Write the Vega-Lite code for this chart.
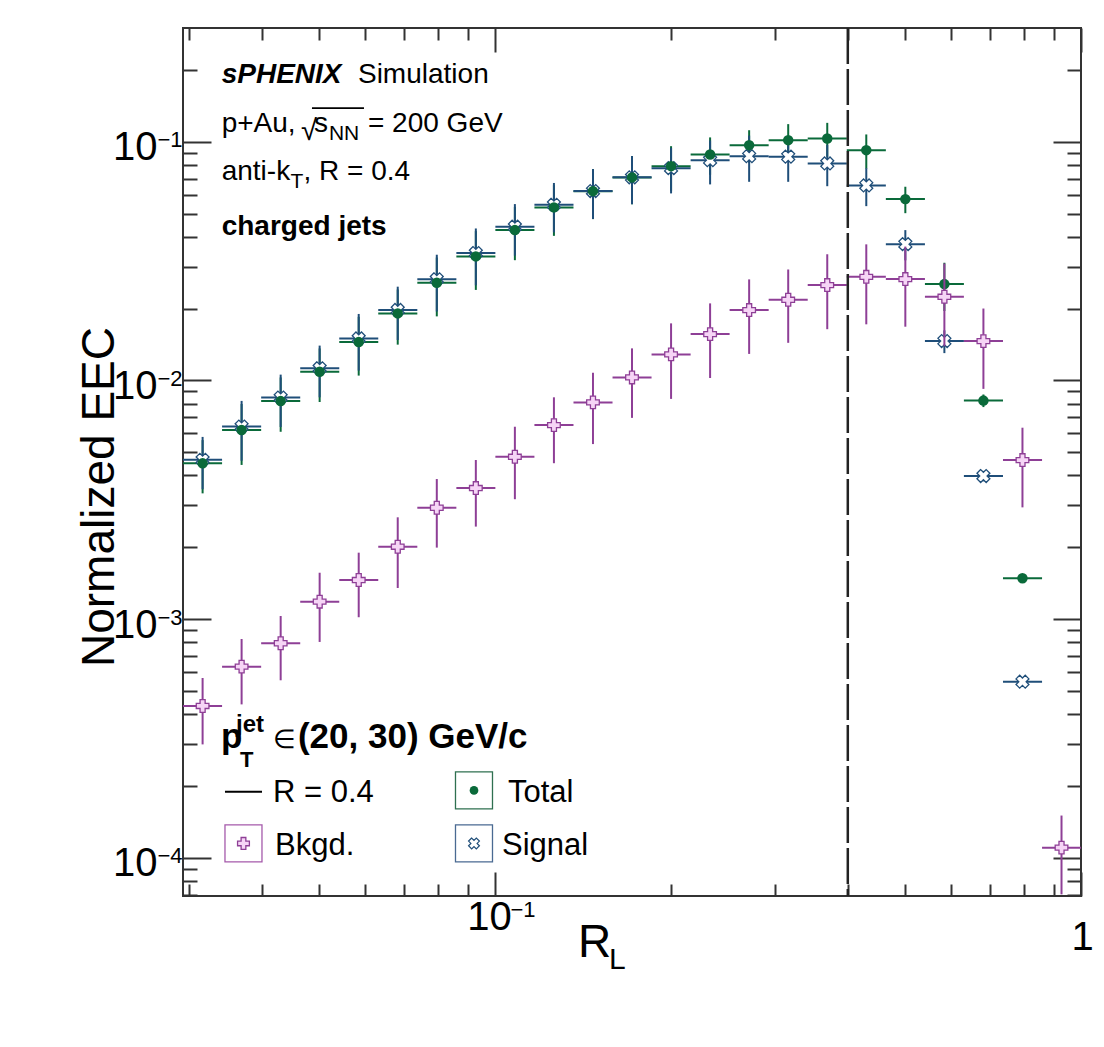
{
"$schema": "https://vega.github.io/schema/vega-lite/v6.json",
"width": 898, "height": 868,
"autosize": {"type": "none"},
"padding": {"left": 183, "top": 28, "right": 23, "bottom": 151},
"background": "white",
"config": {
  "view": {"stroke": "#333", "strokeWidth": 2},
  "font": "Liberation Sans",
  "axis": {"tickColor": "#333", "tickWidth": 2, "domain": false, "grid": false, "labelColor": "#000", "labelFont": "Liberation Sans", "titleFont": "Liberation Sans", "titleColor": "#000", "titleFontWeight": "normal", "labelOverlap": false, "labelFlush": false, "labelBound": false}
},
"datasets": {"pts": [
{"series":"Total","x":0.0317,"xlo":0.02935,"xhi":0.03422,"y":0.004494,"ylo":0.003364,"yhi":0.005624},
{"series":"Total","x":0.03695,"xlo":0.03422,"xhi":0.0399,"y":0.006196,"ylo":0.004426,"yhi":0.007966},
{"series":"Total","x":0.04308,"xlo":0.0399,"xhi":0.04652,"y":0.008195,"ylo":0.006095,"yhi":0.010295},
{"series":"Total","x":0.05021,"xlo":0.04652,"xhi":0.05423,"y":0.010873,"ylo":0.008123,"yhi":0.013623},
{"series":"Total","x":0.05854,"xlo":0.05423,"xhi":0.06321,"y":0.01448,"ylo":0.01048,"yhi":0.01848},
{"series":"Total","x":0.06824,"xlo":0.06321,"xhi":0.0737,"y":0.0191,"ylo":0.01413,"yhi":0.02407},
{"series":"Total","x":0.07956,"xlo":0.0737,"xhi":0.08592,"y":0.02566,"ylo":0.01856,"yhi":0.03276},
{"series":"Total","x":0.09275,"xlo":0.08592,"xhi":0.10015,"y":0.03311,"ylo":0.02396,"yhi":0.04226},
{"series":"Total","x":0.10813,"xlo":0.10015,"xhi":0.11676,"y":0.04267,"ylo":0.03192,"yhi":0.05342},
{"series":"Total","x":0.12606,"xlo":0.11676,"xhi":0.13613,"y":0.05312,"ylo":0.04037,"yhi":0.06587},
{"series":"Total","x":0.14696,"xlo":0.13613,"xhi":0.1587,"y":0.06214,"ylo":0.04744,"yhi":0.07684},
{"series":"Total","x":0.17132,"xlo":0.1587,"xhi":0.185,"y":0.07095,"ylo":0.05475,"yhi":0.08715},
{"series":"Total","x":0.19974,"xlo":0.185,"xhi":0.2157,"y":0.07911,"ylo":0.06231,"yhi":0.09591},
{"series":"Total","x":0.23285,"xlo":0.2157,"xhi":0.2514,"y":0.08857,"ylo":0.07277,"yhi":0.10437},
{"series":"Total","x":0.27146,"xlo":0.2514,"xhi":0.2931,"y":0.09687,"ylo":0.08187,"yhi":0.11187},
{"series":"Total","x":0.31649,"xlo":0.2931,"xhi":0.3417,"y":0.10165,"ylo":0.08465,"yhi":0.11865},
{"series":"Total","x":0.36897,"xlo":0.3417,"xhi":0.3984,"y":0.10332,"ylo":0.08652,"yhi":0.12012},
{"series":"Total","x":0.43013,"xlo":0.3984,"xhi":0.4645,"y":0.0923,"ylo":0.0772,"yhi":0.1074},
{"series":"Total","x":0.50146,"xlo":0.4645,"xhi":0.5416,"y":0.05754,"ylo":0.05024,"yhi":0.06484},
{"series":"Total","x":0.58461,"xlo":0.5416,"xhi":0.6312,"y":0.02534,"ylo":0.01954,"yhi":0.03114},
{"series":"Total","x":0.68152,"xlo":0.6312,"xhi":0.736,"y":0.008235,"ylo":0.007735,"yhi":0.008735},
{"series":"Total","x":0.79454,"xlo":0.736,"xhi":0.8581,"y":0.001482,"ylo":0.001442,"yhi":0.001522},
{"series":"Signal","x":0.0317,"xlo":0.02935,"xhi":0.03422,"y":0.00465,"ylo":0.0035,"yhi":0.0058},
{"series":"Signal","x":0.03695,"xlo":0.03422,"xhi":0.0399,"y":0.00641,"ylo":0.00461,"yhi":0.00821},
{"series":"Signal","x":0.04308,"xlo":0.0399,"xhi":0.04652,"y":0.00848,"ylo":0.00638,"yhi":0.01058},
{"series":"Signal","x":0.05021,"xlo":0.04652,"xhi":0.05423,"y":0.01125,"ylo":0.0085,"yhi":0.014},
{"series":"Signal","x":0.05854,"xlo":0.05423,"xhi":0.06321,"y":0.015,"ylo":0.011,"yhi":0.019},
{"series":"Signal","x":0.06824,"xlo":0.06321,"xhi":0.0737,"y":0.01975,"ylo":0.01478,"yhi":0.02472},
{"series":"Signal","x":0.07956,"xlo":0.0737,"xhi":0.08592,"y":0.02655,"ylo":0.01945,"yhi":0.03365},
{"series":"Signal","x":0.09275,"xlo":0.08592,"xhi":0.10015,"y":0.0342,"ylo":0.02505,"yhi":0.04335},
{"series":"Signal","x":0.10813,"xlo":0.10015,"xhi":0.11676,"y":0.0441,"ylo":0.03335,"yhi":0.05485},
{"series":"Signal","x":0.12606,"xlo":0.11676,"xhi":0.13613,"y":0.0545,"ylo":0.04175,"yhi":0.06725},
{"series":"Signal","x":0.14696,"xlo":0.13613,"xhi":0.1587,"y":0.0622,"ylo":0.0475,"yhi":0.0769},
{"series":"Signal","x":0.17132,"xlo":0.1587,"xhi":0.185,"y":0.071,"ylo":0.0548,"yhi":0.0872},
{"series":"Signal","x":0.19974,"xlo":0.185,"xhi":0.2157,"y":0.0776,"ylo":0.0608,"yhi":0.0944},
{"series":"Signal","x":0.23285,"xlo":0.2157,"xhi":0.2514,"y":0.08382,"ylo":0.06632,"yhi":0.10132},
{"series":"Signal","x":0.27146,"xlo":0.2514,"xhi":0.2931,"y":0.08711,"ylo":0.06801,"yhi":0.10621},
{"series":"Signal","x":0.31649,"xlo":0.2931,"xhi":0.3417,"y":0.0867,"ylo":0.068,"yhi":0.1054},
{"series":"Signal","x":0.36897,"xlo":0.3417,"xhi":0.3984,"y":0.08118,"ylo":0.06518,"yhi":0.09718},
{"series":"Signal","x":0.43013,"xlo":0.3984,"xhi":0.4645,"y":0.06567,"ylo":0.05377,"yhi":0.07757},
{"series":"Signal","x":0.50146,"xlo":0.4645,"xhi":0.5416,"y":0.03727,"ylo":0.03187,"yhi":0.04267},
{"series":"Signal","x":0.58461,"xlo":0.5416,"xhi":0.6312,"y":0.01462,"ylo":0.01302,"yhi":0.01622},
{"series":"Signal","x":0.68152,"xlo":0.6312,"xhi":0.736,"y":0.003977,"ylo":0.003777,"yhi":0.004177},
{"series":"Signal","x":0.79454,"xlo":0.736,"xhi":0.8581,"y":0.0005466,"ylo":0.0005266,"yhi":0.0005666},
{"series":"Bkgd","x":0.0317,"xlo":0.02935,"xhi":0.03422,"y":0.0004324,"ylo":0.0002984,"yhi":0.0005664},
{"series":"Bkgd","x":0.03695,"xlo":0.03422,"xhi":0.0399,"y":0.000632,"ylo":0.000439,"yhi":0.000825},
{"series":"Bkgd","x":0.04308,"xlo":0.0399,"xhi":0.04652,"y":0.000792,"ylo":0.000554,"yhi":0.00103},
{"series":"Bkgd","x":0.05021,"xlo":0.04652,"xhi":0.05423,"y":0.001183,"ylo":0.000802,"yhi":0.001564},
{"series":"Bkgd","x":0.05854,"xlo":0.05423,"xhi":0.06321,"y":0.001458,"ylo":0.001018,"yhi":0.001898},
{"series":"Bkgd","x":0.06824,"xlo":0.06321,"xhi":0.0737,"y":0.00201,"ylo":0.00135,"yhi":0.00267},
{"series":"Bkgd","x":0.07956,"xlo":0.0737,"xhi":0.08592,"y":0.002928,"ylo":0.001993,"yhi":0.003863},
{"series":"Bkgd","x":0.09275,"xlo":0.08592,"xhi":0.10015,"y":0.003541,"ylo":0.002441,"yhi":0.004641},
{"series":"Bkgd","x":0.10813,"xlo":0.10015,"xhi":0.11676,"y":0.004789,"ylo":0.003179,"yhi":0.006399},
{"series":"Bkgd","x":0.12606,"xlo":0.11676,"xhi":0.13613,"y":0.0065,"ylo":0.0045,"yhi":0.0085},
{"series":"Bkgd","x":0.14696,"xlo":0.13613,"xhi":0.1587,"y":0.008093,"ylo":0.005413,"yhi":0.010773},
{"series":"Bkgd","x":0.17132,"xlo":0.1587,"xhi":0.185,"y":0.0103,"ylo":0.00697,"yhi":0.01363},
{"series":"Bkgd","x":0.19974,"xlo":0.185,"xhi":0.2157,"y":0.01286,"ylo":0.00837,"yhi":0.01735},
{"series":"Bkgd","x":0.23285,"xlo":0.2157,"xhi":0.2514,"y":0.01564,"ylo":0.01024,"yhi":0.02104},
{"series":"Bkgd","x":0.27146,"xlo":0.2514,"xhi":0.2931,"y":0.01972,"ylo":0.01292,"yhi":0.02652},
{"series":"Bkgd","x":0.31649,"xlo":0.2931,"xhi":0.3417,"y":0.02178,"ylo":0.01438,"yhi":0.02918},
{"series":"Bkgd","x":0.36897,"xlo":0.3417,"xhi":0.3984,"y":0.0251,"ylo":0.0164,"yhi":0.0338},
{"series":"Bkgd","x":0.43013,"xlo":0.3984,"xhi":0.4645,"y":0.02719,"ylo":0.01719,"yhi":0.03719},
{"series":"Bkgd","x":0.50146,"xlo":0.4645,"xhi":0.5416,"y":0.0266,"ylo":0.0168,"yhi":0.0364},
{"series":"Bkgd","x":0.58461,"xlo":0.5416,"xhi":0.6312,"y":0.02242,"ylo":0.01392,"yhi":0.03092},
{"series":"Bkgd","x":0.68152,"xlo":0.6312,"xhi":0.736,"y":0.01462,"ylo":0.00922,"yhi":0.02002},
{"series":"Bkgd","x":0.79454,"xlo":0.736,"xhi":0.8581,"y":0.004639,"ylo":0.002939,"yhi":0.006339},
{"series":"Bkgd","x":0.92628,"xlo":0.8581,"xhi":1.0,"y":0.0001102,"ylo":0.0000702,"yhi":0.0001502}
]},
"data": {"name": "pts"},
"layer": [
{"transform":[{"filter":"datum.series == 'Total'"}],
 "mark":{"type":"rule","color":"#0a6a3a","strokeWidth":2},
 "encoding":{
  "x":{"field":"xlo","type":"quantitative","scale":{"type":"log","domain":[0.02935,1],"nice":false},"axis":{"orient":"bottom","values":[0.1,1],"labels":false,"tickSize":-24,"title":null}},
  "x2":{"field":"xhi"},
  "y":{"field":"y","type":"quantitative","scale":{"type":"log","domain":[0.0000691,0.3],"nice":false},"axis":{"orient":"left","values":[0.0001,0.001,0.01,0.1],"labels":false,"tickSize":-28,"title":null}}}},
{"transform":[{"filter":"datum.series == 'Signal'"}],
 "mark":{"type":"rule","color":"#1f4e79","strokeWidth":2},
 "encoding":{
  "x":{"field":"xlo","type":"quantitative","scale":{"type":"log","domain":[0.02935,1],"nice":false},"axis":{"orient":"bottom","values":[0.03,0.04,0.05,0.06,0.07,0.08,0.09,0.2,0.3,0.4,0.5,0.6,0.7,0.8,0.9],"labels":false,"tickSize":-12,"title":null}},
  "x2":{"field":"xhi"},
  "y":{"field":"y","type":"quantitative","scale":{"type":"log","domain":[0.0000691,0.3],"nice":false},"axis":{"orient":"left","values":[0.00007,0.00008,0.00009,0.0002,0.0003,0.0004,0.0005,0.0006,0.0007,0.0008,0.0009,0.002,0.003,0.004,0.005,0.006,0.007,0.008,0.009,0.02,0.03,0.04,0.05,0.06,0.07,0.08,0.09,0.2],"labels":false,"tickSize":-14,"title":null}}}},
{"transform":[{"filter":"datum.series == 'Total'"}],
 "mark":{"type":"rule","color":"#0a6a3a","strokeWidth":2},
 "encoding":{
  "x":{"field":"x","type":"quantitative","scale":{"type":"log","domain":[0.02935,1],"nice":false},"axis":{"orient":"top","values":[0.1,1],"labels":false,"tickSize":-24,"title":null}},
  "y":{"field":"ylo","type":"quantitative","scale":{"type":"log","domain":[0.0000691,0.3],"nice":false},"axis":{"orient":"right","values":[0.0001,0.001,0.01,0.1],"labels":false,"tickSize":-28,"title":null}},
  "y2":{"field":"yhi"}}},
{"transform":[{"filter":"datum.series == 'Signal'"}],
 "mark":{"type":"rule","color":"#1f4e79","strokeWidth":2},
 "encoding":{
  "x":{"field":"x","type":"quantitative","scale":{"type":"log","domain":[0.02935,1],"nice":false},"axis":{"orient":"top","values":[0.03,0.04,0.05,0.06,0.07,0.08,0.09,0.2,0.3,0.4,0.5,0.6,0.7,0.8,0.9],"labels":false,"tickSize":-12,"title":null}},
  "y":{"field":"ylo","type":"quantitative","scale":{"type":"log","domain":[0.0000691,0.3],"nice":false},"axis":{"orient":"right","values":[0.00007,0.00008,0.00009,0.0002,0.0003,0.0004,0.0005,0.0006,0.0007,0.0008,0.0009,0.002,0.003,0.004,0.005,0.006,0.007,0.008,0.009,0.02,0.03,0.04,0.05,0.06,0.07,0.08,0.09,0.2],"labels":false,"tickSize":-14,"title":null}},
  "y2":{"field":"yhi"}}},
{"transform":[{"filter":"datum.series == 'Signal'"}],
 "mark":{"type":"point","shape":"cross","angle":45,"size":170,"filled":true,"fill":"white","stroke":"#1f4e79","strokeWidth":1.3,"opacity":1},
 "encoding":{
  "x":{"field":"x","type":"quantitative","scale":{"type":"log","domain":[0.02935,1],"nice":false},"axis":{"orient":"bottom","values":[0.1],"ticks":false,"labelExpr":"'10'","labelFontSize":40,"labelAlign":"center","labelBaseline":"alphabetic","labelPadding":33,"labelOffset":-6,"title":"R","titleFontSize":46,"titleX":411,"titleY":60,"titleAlign":"center","titleBaseline":"alphabetic","titleAngle":0}},
  "y":{"field":"y","type":"quantitative","scale":{"type":"log","domain":[0.0000691,0.3],"nice":false},"axis":{"orient":"left","values":[0.0001,0.001,0.01,0.1],"ticks":false,"labelExpr":"'10'","labelFontSize":40,"labelAlign":"right","labelBaseline":"alphabetic","labelPadding":26,"labelOffset":18,"title":"Normalized EEC","titleFontSize":46,"titleX":-70,"titleY":468.5,"titleAngle":-90,"titleAlign":"center","titleBaseline":"alphabetic"}}}},
{"transform":[{"filter":"datum.series == 'Total'"}],
 "mark":{"type":"point","shape":"circle","size":110,"filled":true,"color":"#0a6a3a","opacity":1,"strokeWidth":0},
 "encoding":{
  "x":{"field":"x","type":"quantitative","scale":{"type":"log","domain":[0.02935,1],"nice":false},"axis":{"orient":"bottom","values":[0.1],"ticks":false,"labelExpr":"'−1'","labelFontSize":22,"labelAlign":"left","labelBaseline":"alphabetic","labelPadding":20,"labelOffset":15,"title":null}},
  "y":{"field":"y","type":"quantitative","scale":{"type":"log","domain":[0.0000691,0.3],"nice":false},"axis":{"orient":"left","values":[0.0001,0.001,0.01,0.1],"ticks":false,"labelExpr":"datum.value == 0.1 ? '−1' : datum.value == 0.01 ? '−2' : datum.value == 0.001 ? '−3' : '−4'","labelFontSize":22,"labelAlign":"left","labelBaseline":"alphabetic","labelPadding":26,"labelOffset":5,"title":null}}}},
{"transform":[{"filter":"datum.series == 'Bkgd'"}],
 "mark":{"type":"rule","color":"#8e3f96","strokeWidth":2},
 "encoding":{
  "x":{"field":"xlo","type":"quantitative","scale":{"type":"log","domain":[0.02935,1],"nice":false},"axis":{"orient":"bottom","values":[1],"ticks":false,"labelExpr":"'1'","labelFontSize":40,"labelAlign":"center","labelBaseline":"alphabetic","labelPadding":53,"labelOffset":1,"title":null}},
  "x2":{"field":"xhi"},
  "y":{"field":"y","type":"quantitative","scale":{"type":"log","domain":[0.0000691,0.3],"nice":false},"axis":null}}},
{"transform":[{"filter":"datum.series == 'Bkgd'"}],
 "mark":{"type":"rule","color":"#8e3f96","strokeWidth":2},
 "encoding":{
  "x":{"field":"x","type":"quantitative","scale":{"type":"log","domain":[0.02935,1],"nice":false},"axis":null},
  "y":{"field":"ylo","type":"quantitative","scale":{"type":"log","domain":[0.0000691,0.3],"nice":false},"axis":null},
  "y2":{"field":"yhi"}}},
{"transform":[{"filter":"datum.series == 'Bkgd'"}],
 "mark":{"type":"point","shape":"cross","size":160,"filled":true,"fill":"#f6d5f6","stroke":"#8e3f96","strokeWidth":1.3,"opacity":1},
 "encoding":{
  "x":{"field":"x","type":"quantitative","scale":{"type":"log","domain":[0.02935,1],"nice":false},"axis":null},
  "y":{"field":"y","type":"quantitative","scale":{"type":"log","domain":[0.0000691,0.3],"nice":false},"axis":null}}},
{"data":{"values":[{}]},
 "mark":{"type":"rule","strokeDash":[36,5],"strokeWidth":2.5,"color":"#222"},
 "encoding":{"x":{"datum":0.4,"type":"quantitative","scale":{"type":"log","domain":[0.02935,1],"nice":false},"axis":null}}},
{"data":{"values":[{}]},
 "mark":{"type":"text","align":"left","baseline":"alphabetic","fontSize":28,"fontWeight":"bold","fontStyle":"italic","color":"#000"},
 "encoding":{"x":{"datum":0.034169,"type":"quantitative","scale":{"type":"log","domain":[0.02935,1],"nice":false},"axis":null},"y":{"datum":0.17671,"type":"quantitative","scale":{"type":"log","domain":[0.0000691,0.3],"nice":false},"axis":null},"text":{"value":"sPHENIX"}}},
{"data":{"values":[{}]},
 "mark":{"type":"text","align":"left","baseline":"alphabetic","fontSize":28,"color":"#000"},
 "encoding":{"x":{"datum":0.058371,"type":"quantitative","scale":{"type":"log","domain":[0.02935,1],"nice":false},"axis":null},"y":{"datum":0.17671,"type":"quantitative","scale":{"type":"log","domain":[0.0000691,0.3],"nice":false},"axis":null},"text":{"value":"Simulation"}}},
{"data":{"values":[{}]},
 "mark":{"type":"text","align":"left","baseline":"alphabetic","fontSize":28,"color":"#000"},
 "encoding":{"x":{"datum":0.034169,"type":"quantitative","scale":{"type":"log","domain":[0.02935,1],"nice":false},"axis":null},"y":{"datum":0.11011,"type":"quantitative","scale":{"type":"log","domain":[0.0000691,0.3],"nice":false},"axis":null},"text":{"value":"p+Au,"}}},
{"data":{"values":[{}]},
 "mark":{"type":"text","align":"left","baseline":"alphabetic","fontSize":29,"color":"#000"},
 "encoding":{"x":{"datum":0.046654,"type":"quantitative","scale":{"type":"log","domain":[0.02935,1],"nice":false},"axis":null},"y":{"datum":0.10165,"type":"quantitative","scale":{"type":"log","domain":[0.0000691,0.3],"nice":false},"axis":null},"text":{"value":"√"}}},
{"data":{"values":[{}]},
 "mark":{"type":"rule","strokeWidth":1.6,"color":"#000"},
 "encoding":{"x":{"datum":0.048717,"type":"quantitative","scale":{"type":"log","domain":[0.02935,1],"nice":false},"axis":null},"x2":{"datum":0.059764},"y":{"datum":0.13842,"type":"quantitative","scale":{"type":"log","domain":[0.0000691,0.3],"nice":false},"axis":null}}},
{"data":{"values":[{}]},
 "mark":{"type":"text","align":"left","baseline":"alphabetic","fontSize":28,"color":"#000"},
 "encoding":{"x":{"datum":0.049103,"type":"quantitative","scale":{"type":"log","domain":[0.02935,1],"nice":false},"axis":null},"y":{"datum":0.11011,"type":"quantitative","scale":{"type":"log","domain":[0.0000691,0.3],"nice":false},"axis":null},"text":{"value":"s"}}},
{"data":{"values":[{}]},
 "mark":{"type":"text","align":"left","baseline":"alphabetic","fontSize":21,"color":"#000"},
 "encoding":{"x":{"datum":0.052078,"type":"quantitative","scale":{"type":"log","domain":[0.02935,1],"nice":false},"axis":null},"y":{"datum":0.10165,"type":"quantitative","scale":{"type":"log","domain":[0.0000691,0.3],"nice":false},"axis":null},"text":{"value":"NN"}}},
{"data":{"values":[{}]},
 "mark":{"type":"text","align":"left","baseline":"alphabetic","fontSize":28,"color":"#000"},
 "encoding":{"x":{"datum":0.060711,"type":"quantitative","scale":{"type":"log","domain":[0.02935,1],"nice":false},"axis":null},"y":{"datum":0.11011,"type":"quantitative","scale":{"type":"log","domain":[0.0000691,0.3],"nice":false},"axis":null},"text":{"value":"= 200 GeV"}}},
{"data":{"values":[{}]},
 "mark":{"type":"text","align":"left","baseline":"alphabetic","fontSize":28,"color":"#000"},
 "encoding":{"x":{"datum":0.034169,"type":"quantitative","scale":{"type":"log","domain":[0.02935,1],"nice":false},"axis":null},"y":{"datum":0.069131,"type":"quantitative","scale":{"type":"log","domain":[0.0000691,0.3],"nice":false},"axis":null},"text":{"value":"anti-k"}}},
{"data":{"values":[{}]},
 "mark":{"type":"text","align":"left","baseline":"alphabetic","fontSize":21,"color":"#000"},
 "encoding":{"x":{"datum":0.04477,"type":"quantitative","scale":{"type":"log","domain":[0.02935,1],"nice":false},"axis":null},"y":{"datum":0.06397,"type":"quantitative","scale":{"type":"log","domain":[0.0000691,0.3],"nice":false},"axis":null},"text":{"value":"T"}}},
{"data":{"values":[{}]},
 "mark":{"type":"text","align":"left","baseline":"alphabetic","fontSize":28,"color":"#000"},
 "encoding":{"x":{"datum":0.047117,"type":"quantitative","scale":{"type":"log","domain":[0.02935,1],"nice":false},"axis":null},"y":{"datum":0.069131,"type":"quantitative","scale":{"type":"log","domain":[0.0000691,0.3],"nice":false},"axis":null},"text":{"value":", R = 0.4"}}},
{"data":{"values":[{}]},
 "mark":{"type":"text","align":"left","baseline":"alphabetic","fontSize":28,"fontWeight":"bold","color":"#000"},
 "encoding":{"x":{"datum":0.034169,"type":"quantitative","scale":{"type":"log","domain":[0.02935,1],"nice":false},"axis":null},"y":{"datum":0.040656,"type":"quantitative","scale":{"type":"log","domain":[0.0000691,0.3],"nice":false},"axis":null},"text":{"value":"charged jets"}}},
{"data":{"values":[{}]},
 "mark":{"type":"text","align":"left","baseline":"alphabetic","fontSize":35,"fontWeight":"bold","color":"#000"},
 "encoding":{"x":{"datum":0.034075,"type":"quantitative","scale":{"type":"log","domain":[0.02935,1],"nice":false},"axis":null},"y":{"datum":0.0002884,"type":"quantitative","scale":{"type":"log","domain":[0.0000691,0.3],"nice":false},"axis":null},"text":{"value":"p"}}},
{"data":{"values":[{}]},
 "mark":{"type":"text","align":"left","baseline":"alphabetic","fontSize":24,"fontWeight":"bold","color":"#000"},
 "encoding":{"x":{"datum":0.03614,"type":"quantitative","scale":{"type":"log","domain":[0.02935,1],"nice":false},"axis":null},"y":{"datum":0.00033654,"type":"quantitative","scale":{"type":"log","domain":[0.0000691,0.3],"nice":false},"axis":null},"text":{"value":"jet"}}},
{"data":{"values":[{}]},
 "mark":{"type":"text","align":"left","baseline":"alphabetic","fontSize":22,"fontWeight":"bold","color":"#000"},
 "encoding":{"x":{"datum":0.036713,"type":"quantitative","scale":{"type":"log","domain":[0.02935,1],"nice":false},"axis":null},"y":{"datum":0.00024016,"type":"quantitative","scale":{"type":"log","domain":[0.0000691,0.3],"nice":false},"axis":null},"text":{"value":"T"}}},
{"data":{"values":[{}]},
 "mark":{"type":"text","align":"left","baseline":"alphabetic","fontSize":26,"color":"#000"},
 "encoding":{"x":{"datum":0.041806,"type":"quantitative","scale":{"type":"log","domain":[0.02935,1],"nice":false},"axis":null},"y":{"datum":0.0002884,"type":"quantitative","scale":{"type":"log","domain":[0.0000691,0.3],"nice":false},"axis":null},"text":{"value":"∈"}}},
{"data":{"values":[{}]},
 "mark":{"type":"text","align":"left","baseline":"alphabetic","fontSize":35,"fontWeight":"bold","color":"#000"},
 "encoding":{"x":{"datum":0.046109,"type":"quantitative","scale":{"type":"log","domain":[0.02935,1],"nice":false},"axis":null},"y":{"datum":0.0002884,"type":"quantitative","scale":{"type":"log","domain":[0.0000691,0.3],"nice":false},"axis":null},"text":{"value":"(20, 30) GeV/c"}}},
{"data":{"values":[{}]},
 "mark":{"type":"rule","strokeWidth":2,"color":"#000"},
 "encoding":{"x":{"datum":0.034613,"type":"quantitative","scale":{"type":"log","domain":[0.02935,1],"nice":false},"axis":null},"x2":{"datum":0.040034},"y":{"datum":0.00018918,"type":"quantitative","scale":{"type":"log","domain":[0.0000691,0.3],"nice":false},"axis":null}}},
{"data":{"values":[{}]},
 "mark":{"type":"point","shape":"square","size":1369,"filled":false,"stroke":"#2f7050","strokeWidth":1.3,"opacity":1},
 "encoding":{"x":{"datum":0.092081,"type":"quantitative","scale":{"type":"log","domain":[0.02935,1],"nice":false},"axis":null},"y":{"datum":0.00019138,"type":"quantitative","scale":{"type":"log","domain":[0.0000691,0.3],"nice":false},"axis":null}}},
{"data":{"values":[{}]},
 "mark":{"type":"point","shape":"square","size":1369,"filled":false,"stroke":"#a55aab","strokeWidth":1.3,"opacity":1},
 "encoding":{"x":{"datum":0.037223,"type":"quantitative","scale":{"type":"log","domain":[0.02935,1],"nice":false},"axis":null},"y":{"datum":0.00011479,"type":"quantitative","scale":{"type":"log","domain":[0.0000691,0.3],"nice":false},"axis":null}}},
{"data":{"values":[{}]},
 "mark":{"type":"point","shape":"square","size":1369,"filled":false,"stroke":"#4a6a92","strokeWidth":1.3,"opacity":1},
 "encoding":{"x":{"datum":0.092081,"type":"quantitative","scale":{"type":"log","domain":[0.02935,1],"nice":false},"axis":null},"y":{"datum":0.00011479,"type":"quantitative","scale":{"type":"log","domain":[0.0000691,0.3],"nice":false},"axis":null}}},
{"data":{"values":[{}]},
 "mark":{"type":"point","shape":"circle","size":75,"filled":true,"color":"#0a6a3a","opacity":1,"strokeWidth":0},
 "encoding":{"x":{"datum":0.092081,"type":"quantitative","scale":{"type":"log","domain":[0.02935,1],"nice":false},"axis":null},"y":{"datum":0.00019138,"type":"quantitative","scale":{"type":"log","domain":[0.0000691,0.3],"nice":false},"axis":null}}},
{"data":{"values":[{}]},
 "mark":{"type":"point","shape":"cross","size":140,"filled":true,"fill":"#f6d5f6","stroke":"#8e3f96","strokeWidth":1.3,"opacity":1},
 "encoding":{"x":{"datum":0.037223,"type":"quantitative","scale":{"type":"log","domain":[0.02935,1],"nice":false},"axis":null},"y":{"datum":0.00011479,"type":"quantitative","scale":{"type":"log","domain":[0.0000691,0.3],"nice":false},"axis":null}}},
{"data":{"values":[{}]},
 "mark":{"type":"point","shape":"cross","angle":45,"size":120,"filled":true,"fill":"white","stroke":"#1f4e79","strokeWidth":1.2,"opacity":1},
 "encoding":{"x":{"datum":0.092081,"type":"quantitative","scale":{"type":"log","domain":[0.02935,1],"nice":false},"axis":null},"y":{"datum":0.00011479,"type":"quantitative","scale":{"type":"log","domain":[0.0000691,0.3],"nice":false},"axis":null}}},
{"data":{"values":[{}]},
 "mark":{"type":"text","align":"left","baseline":"alphabetic","fontSize":31,"color":"#000"},
 "encoding":{"x":{"datum":0.041806,"type":"quantitative","scale":{"type":"log","domain":[0.02935,1],"nice":false},"axis":null},"y":{"datum":0.00017128,"type":"quantitative","scale":{"type":"log","domain":[0.0000691,0.3],"nice":false},"axis":null},"text":{"value":"R = 0.4"}}},
{"data":{"values":[{}]},
 "mark":{"type":"text","align":"left","baseline":"alphabetic","fontSize":31,"color":"#000"},
 "encoding":{"x":{"datum":0.105242,"type":"quantitative","scale":{"type":"log","domain":[0.02935,1],"nice":false},"axis":null},"y":{"datum":0.00017128,"type":"quantitative","scale":{"type":"log","domain":[0.0000691,0.3],"nice":false},"axis":null},"text":{"value":"Total"}}},
{"data":{"values":[{}]},
 "mark":{"type":"text","align":"left","baseline":"alphabetic","fontSize":31,"color":"#000"},
 "encoding":{"x":{"datum":0.042137,"type":"quantitative","scale":{"type":"log","domain":[0.02935,1],"nice":false},"axis":null},"y":{"datum":0.00010274,"type":"quantitative","scale":{"type":"log","domain":[0.0000691,0.3],"nice":false},"axis":null},"text":{"value":"Bkgd."}}},
{"data":{"values":[{}]},
 "mark":{"type":"text","align":"left","baseline":"alphabetic","fontSize":31,"color":"#000"},
 "encoding":{"x":{"datum":0.102789,"type":"quantitative","scale":{"type":"log","domain":[0.02935,1],"nice":false},"axis":null},"y":{"datum":0.00010274,"type":"quantitative","scale":{"type":"log","domain":[0.0000691,0.3],"nice":false},"axis":null},"text":{"value":"Signal"}}},
{"data":{"values":[{}]},
 "mark":{"type":"text","align":"left","baseline":"alphabetic","fontSize":30,"color":"#000"},
 "encoding":{"x":{"datum":0.15652,"type":"quantitative","scale":{"type":"log","domain":[0.02935,1],"nice":false},"axis":null},"y":{"datum":0.000034,"type":"quantitative","scale":{"type":"log","domain":[0.0000691,0.3],"nice":false},"axis":null},"text":{"value":"L"}}}
],
"resolve": {"axis": {"x": "independent", "y": "independent"}}
}
